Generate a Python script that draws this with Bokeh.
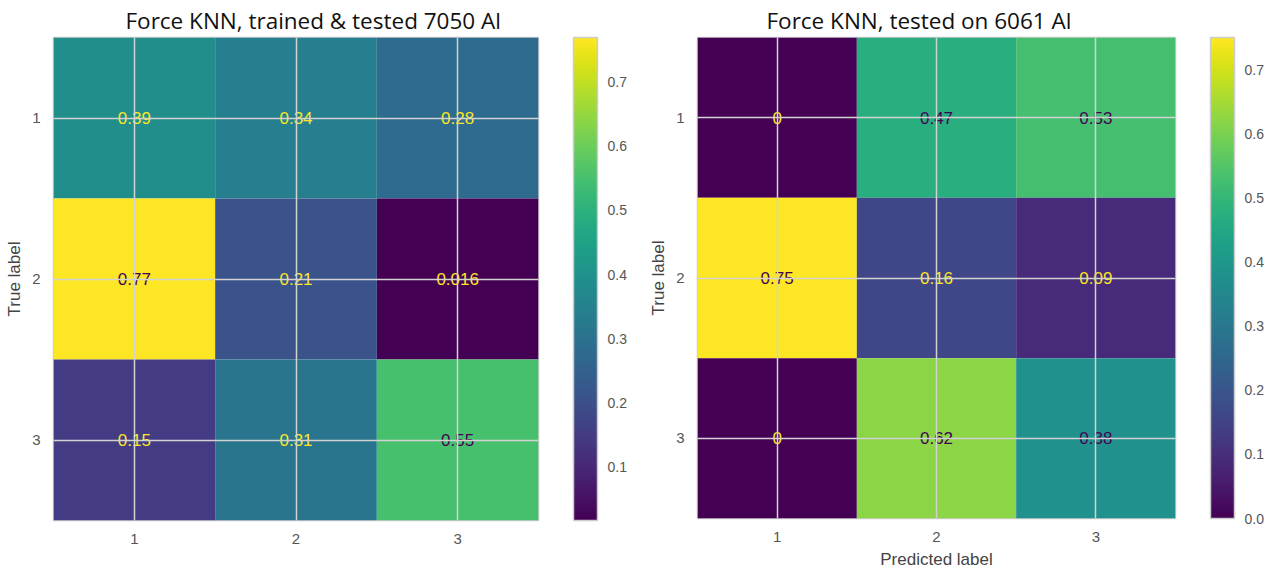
from bokeh.plotting import figure
from bokeh.layouts import row
from bokeh.models import (ColumnDataSource, LinearColorMapper, ColorBar, FixedTicker,
                          PrintfTickFormatter, Range1d, Title)
from bokeh.palettes import Viridis256
from bokeh.transform import transform
from bokeh.core.properties import value
from bokeh.embed import file_html
from bokeh.resources import INLINE

# Class labels (rows = true label, columns = predicted label)
class_labels = [1, 2, 3]

# Normalised confusion matrix, KNN trained and tested on 7050 Al
cm_7050 = [[0.39, 0.34, 0.28],
           [0.77, 0.21, 0.016],
           [0.15, 0.31, 0.55]]

# Normalised confusion matrix, same KNN tested on 6061 Al
cm_6061 = [[0.0, 0.47, 0.53],
           [0.75, 0.16, 0.09],
           [0.0, 0.62, 0.38]]

cbar_ticks_7050 = [0.1, 0.2, 0.3, 0.4, 0.5, 0.6, 0.7]
cbar_ticks_6061 = [0.0, 0.1, 0.2, 0.3, 0.4, 0.5, 0.6, 0.7]

TICK_FONT = "Liberation Sans"
GRID_COLOR = "#d2d2d2"
EDGE_COLOR = "#cccccc"
DARK = Viridis256[0]
LIGHT = Viridis256[-1]


def confusion_panel(cm, title, title_offset, frame_w, frame_h, left, right, bottom,
                    cbar_ticks, xlabel=None):
    flat = [v for r in cm for v in r]
    lo, hi = min(flat), max(flat)
    thresh = (lo + hi) / 2.0
    xs, ys, vals, txt, tcol = [], [], [], [], []
    for i, r in enumerate(cm):
        for j, v in enumerate(r):
            xs.append(class_labels[j])
            ys.append(class_labels[i])
            vals.append(v)
            txt.append(format(v, ".2g"))
            tcol.append(LIGHT if v < thresh else DARK)
    src = ColumnDataSource(dict(x=xs, y=ys, v=vals, t=txt, c=tcol))
    mapper = LinearColorMapper(palette=Viridis256, low=lo, high=hi)

    p = figure(frame_width=frame_w, frame_height=frame_h,
               x_range=Range1d(0.5, 3.5), y_range=Range1d(3.5, 0.5),
               output_backend="svg", toolbar_location=None,
               min_border_left=left, min_border_right=right,
               min_border_top=37, min_border_bottom=bottom,
               background_fill_color="white", border_fill_color="white")
    p.title = Title(text=title, align="left", offset=title_offset, standoff=3,
                    text_font="Open Sans", text_font_size="22.5px",
                    text_font_style="normal", text_color="#111111")

    p.rect(x="x", y="y", width=1, height=1, source=src,
           fill_color=transform("v", mapper), line_color=None)
    p.text(x="x", y="y", text="t", text_color="c", source=src,
           text_align="center", text_baseline="middle",
           text_font=value(TICK_FONT), text_font_size="17px")

    for ax in (p.xaxis, p.yaxis):
        ax.ticker = FixedTicker(ticks=class_labels)
        ax.axis_line_color = None
        ax.major_tick_line_color = None
        ax.minor_tick_line_color = None
        ax.major_label_text_font = TICK_FONT
        ax.major_label_text_font_size = "15px"
        ax.major_label_text_color = "#555555"
        ax.major_label_standoff = 7
        ax.axis_label_text_font = TICK_FONT
        ax.axis_label_text_font_size = "17px"
        ax.axis_label_text_font_style = "normal"
        ax.axis_label_text_color = "#444444"
    p.yaxis.axis_label = "True label"
    if xlabel:
        p.xaxis.axis_label = xlabel

    for g in (p.xgrid, p.ygrid):
        g.ticker = FixedTicker(ticks=class_labels)
        g.grid_line_color = GRID_COLOR
        g.grid_line_width = 1.5
        g.level = "overlay"
    p.outline_line_color = EDGE_COLOR
    p.outline_line_width = 1.5

    cb = ColorBar(color_mapper=mapper, width=24, height=frame_h,
                  ticker=FixedTicker(ticks=cbar_ticks),
                  formatter=PrintfTickFormatter(format="%.1f"),
                  major_tick_line_color=None, minor_tick_line_color=None,
                  major_label_text_font=TICK_FONT,
                  major_label_text_font_size="14px",
                  major_label_text_color="#555555",
                  bar_line_color=EDGE_COLOR, bar_line_width=1.5,
                  border_line_color=None, background_fill_alpha=0,
                  padding=0, margin=0, label_standoff=10,
                  location=(35, 0))
    p.add_layout(cb, "right")
    return p


left_plot = confusion_panel(cm_7050, "Force KNN, trained & tested 7050 Al", 72,
                            485, 483, 53, 102, 49, cbar_ticks_7050)
right_plot = confusion_panel(cm_6061, "Force KNN, tested on 6061 Al", 69,
                             478, 481, 57, 92, 51, cbar_ticks_6061,
                             xlabel="Predicted label")

layout = row(left_plot, right_plot, spacing=0)
open("out.html", "w").write(file_html(layout, INLINE))
